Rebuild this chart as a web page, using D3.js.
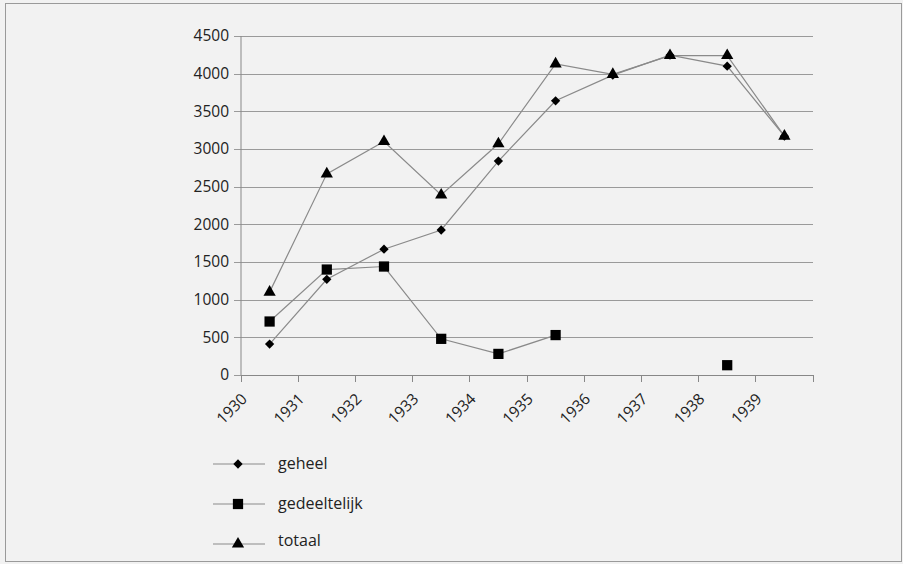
<!DOCTYPE html>
<html>
<head>
<meta charset="utf-8" />
<title>geheel / gedeeltelijk / totaal</title>
<script src="https://cdn.jsdelivr.net/npm/d3@7"></script>
<style>
  body { margin: 0; background: #f2f2f2; }
  #chart { width: 903px; height: 564px; }
  text { font-family: "Open Sans", sans-serif; fill: #222; }
  .grid line { stroke: #9a9a9a; stroke-width: 1px; shape-rendering: crispEdges; }
  .grid path { display: none; }
  .axis path, .axis line { stroke: #888; stroke-width: 1px; shape-rendering: crispEdges; }
  .series { fill: none; stroke: #8a8a8a; stroke-width: 1.2px; }
</style>
</head>
<body>
<div id="chart"></div>
<script>
var years = ["1930", "1931", "1932", "1933", "1934", "1935", "1936", "1937", "1938", "1939"];
var geheel = [410, 1270, 1670, 1925, 2840, 3640, 3980, 4245, 4100, 3170];
var gedeeltelijk = [710, 1400, 1440, 480, 280, 530, null, null, 130, null];
var totaal = [1100, 2670, 3100, 2390, 3070, 4130, 3990, 4240, 4240, 3170];
var yTicks = [0, 500, 1000, 1500, 2000, 2500, 3000, 3500, 4000, 4500];

var series = [
  {name: "geheel", values: geheel, symbol: d3.symbolDiamond2, size: 55},
  {name: "gedeeltelijk", values: gedeeltelijk, symbol: d3.symbolSquare, size: 105},
  {name: "totaal", values: totaal, symbol: d3.symbolTriangle, size: 65}
];

var width = 903, height = 564;
var margin = {top: 36, left: 241, right: 90, bottom: 189};
var chartW = width - margin.left - margin.right,
    chartH = height - margin.top - margin.bottom;

var svg = d3.select("#chart").append("svg")
    .attr("width", width)
    .attr("height", height);

// frame of the scanned figure
svg.append("rect")
    .attr("x", 5.5).attr("y", 3.5)
    .attr("width", 896).attr("height", 558)
    .attr("fill", "#f2f2f2")
    .attr("stroke", "#9a9a9a");

var x = d3.scaleBand().domain(years).range([0, chartW]);
var y = d3.scaleLinear().domain([0, 4500]).range([chartH, 0]);

var g = svg.append("g")
    .attr("transform", "translate(" + margin.left + "," + margin.top + ")");

g.append("g")
    .attr("class", "grid")
    .call(d3.axisLeft(y).tickValues(yTicks).tickSize(-chartW).tickFormat(""))
    .call(function(s) { s.selectAll("line").attr("x1", -7); });

g.append("g")
    .attr("class", "axis y")
    .call(d3.axisLeft(y).tickValues(yTicks).tickSize(0).tickPadding(12).tickFormat(d3.format("d")))
    .call(function(s) {
      s.select(".domain").remove();
      s.selectAll("text").style("font-size", "15.5px");
    });

// y axis line
g.append("line")
    .attr("class", "axis")
    .attr("x1", 0).attr("x2", 0).attr("y1", 0).attr("y2", chartH)
    .attr("stroke", "#888");

// x axis: ticks at category boundaries, labels rotated
var xAxis = g.append("g")
    .attr("class", "axis x")
    .attr("transform", "translate(0," + chartH + ")");
xAxis.append("line").attr("x1", 0).attr("x2", chartW).attr("stroke", "#888");
var bounds = years.map(function(d) { return x(d); }).concat([chartW]);
xAxis.selectAll(".tk").data(bounds).enter().append("line")
    .attr("class", "tk")
    .attr("x1", function(d) { return d; }).attr("x2", function(d) { return d; })
    .attr("y1", 0).attr("y2", 7);
xAxis.selectAll(".lbl").data(years).enter().append("text")
    .attr("class", "lbl")
    .attr("text-anchor", "end")
    .style("font-size", "15.5px")
    .attr("transform", function(d) {
      return "translate(" + (x(d) + 7) + ",25) rotate(-45)";
    })
    .text(function(d) { return d; });

var cx = function(i) { return x(years[i]) + x.bandwidth() / 2; };

var line = d3.line()
    .defined(function(d) { return d != null; })
    .x(function(d, i) { return cx(i); })
    .y(function(d) { return y(d); });

series.forEach(function(s) {
  g.append("path")
      .attr("class", "series")
      .attr("d", line(s.values));
});

series.forEach(function(s) {
  g.selectAll(".m-" + s.name)
      .data(s.values.map(function(v, i) { return {v: v, i: i}; })
        .filter(function(d) { return d.v != null; }))
    .enter().append("path")
      .attr("d", d3.symbol().type(s.symbol).size(s.size))
      .attr("fill", "#000")
      .attr("transform", function(d) {
        return "translate(" + cx(d.i) + "," + y(d.v) + ")";
      });
});

// legend
var legend = svg.append("g").attr("transform", "translate(213,464)");
series.forEach(function(s, i) {
  var row = legend.append("g").attr("transform", "translate(0," + (i * 40) + ")");
  row.append("line").attr("x1", 0).attr("x2", 52)
      .attr("stroke", "#8a8a8a").attr("stroke-width", 1.2);
  row.append("path")
      .attr("d", d3.symbol().type(s.symbol).size(s.size))
      .attr("fill", "#000")
      .attr("transform", "translate(25,0)");
  row.append("text")
      .attr("x", 65).attr("y", i === 2 ? -4 : -1).attr("dy", "0.35em")
      .style("font-size", "16px")
      .text(s.name);
});
</script>
</body>
</html>
